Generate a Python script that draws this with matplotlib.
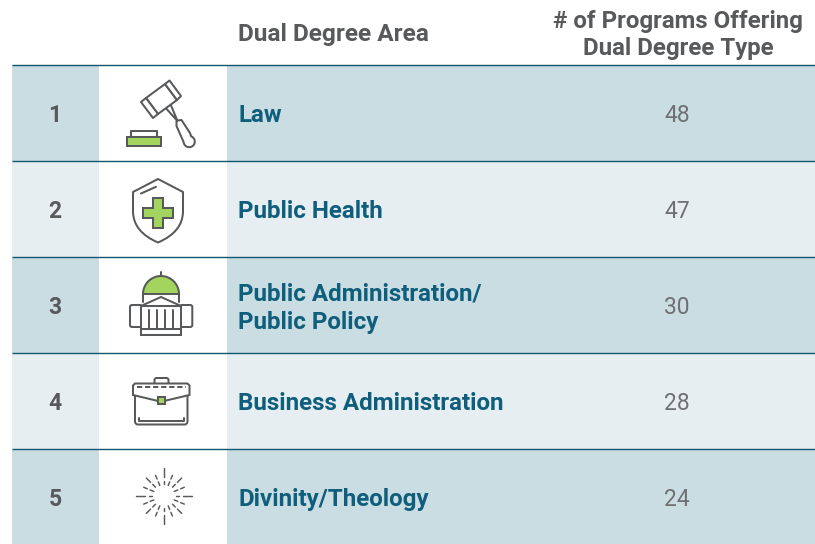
import numpy as np
import matplotlib
matplotlib.use("Agg")
import matplotlib.pyplot as plt
from matplotlib.patches import Rectangle, Polygon, FancyBboxPatch, Wedge, PathPatch
from matplotlib.path import Path

ranks = ["1", "2", "3", "4", "5"]
areas = ["Law", "Public Health", "Public Administration/\nPublic Policy",
         "Business Administration", "Divinity/Theology"]
programs = [48, 47, 30, 28, 24]
header_area = "Dual Degree Area"
header_count = "# of Programs Offering\nDual Degree Type"

DARK, LIGHT = "#C9DDE3", "#E6EEF2"
LINE = "#12586F"
TEAL = "#0F5E7C"
GREY = "#58595B"
NUM = "#6F7072"
GREEN = "#A2D45E"
FONT = "Roboto"

fig = plt.figure(figsize=(8.15, 5.44), dpi=100)
ax = fig.add_axes([0, 0, 1, 1])
ax.set_xlim(0, 815)
ax.set_ylim(544, 0)
ax.axis("off")

LW = 1.45
kw = dict(fill=False, ec=GREY, lw=LW, joinstyle="round", zorder=5)
def line(xs, ys, lw=LW, **k):
    ax.plot(xs, ys, color=GREY, lw=lw, solid_capstyle="round", solid_joinstyle="round", zorder=6, **k)
def rrect(x0, y0, x1, y1, r=2, **k):
    d = dict(kw); d.update(k)
    ax.add_patch(FancyBboxPatch((x0+r, y0+r), x1-x0-2*r, y1-y0-2*r,
                                boxstyle=f"round,pad={r},rounding_size={r}", **d))

def gavel():
    # handle as one outline ending in a round knob; its top runs under the head
    th = np.deg2rad(np.linspace(-70, 175, 30))
    knob = [(189.2 + 5.6*np.cos(a), 141.6 + 5.6*np.sin(a)) for a in th]
    ax.add_patch(Polygon([(170, 103), (177.3, 120.5), (181.5, 120), (190, 133)] + knob +
                         [(176.5, 126), (176.5, 120), (164, 106)], closed=True,
                         fc="white", ec=GREY, lw=LW, joinstyle="round", zorder=5))
    # head and its two end caps
    ax.add_patch(Polygon([(146, 98), (165, 84), (177, 100), (158, 114)], closed=True,
                         fc="white", ec=GREY, lw=LW, joinstyle="round", zorder=5.5))
    ax.add_patch(Polygon([(141, 102), (146, 98), (158, 114), (153, 118)], closed=True,
                         fc="white", ec=GREY, lw=LW, joinstyle="round", zorder=5.5))
    ax.add_patch(Polygon([(165, 84), (169.5, 80.5), (181, 96), (177, 100)], closed=True,
                         fc="white", ec=GREY, lw=LW, joinstyle="round", zorder=5.5))
    ax.add_patch(Rectangle((127, 137), 34, 8.5, fc=GREEN, ec=GREY, lw=LW, zorder=5))
    ax.add_patch(Rectangle((130.7, 131), 26, 6, **kw))

def shield():
    verts = [(158, 179), (133, 192), (133, 212), (133.5, 232), (158, 242.5),
             (182.5, 232), (183, 212), (183, 192), (158, 179)]
    codes = [Path.MOVETO, Path.LINETO, Path.LINETO, Path.CURVE3, Path.CURVE3,
             Path.CURVE3, Path.CURVE3, Path.LINETO, Path.CLOSEPOLY]
    ax.add_patch(PathPatch(Path(verts, codes), **kw))
    line([141, 156], [193.5, 186.8])
    cx, cy, a, b = 158, 212.7, 15, 5
    ax.add_patch(Polygon([(cx-b, cy-a), (cx+b, cy-a), (cx+b, cy-b), (cx+a, cy-b), (cx+a, cy+b),
                          (cx+b, cy+b), (cx+b, cy+a), (cx-b, cy+a), (cx-b, cy+b), (cx-a, cy+b),
                          (cx-a, cy-b), (cx-b, cy-b)], closed=True, fc=GREEN, ec=GREY, lw=LW, zorder=5))

def capitol():
    ax.add_patch(Wedge((161, 294), 18, 180, 360, fc=GREEN, ec=GREY, lw=LW, zorder=5))
    line([161, 161], [272, 276])
    line([143, 179], [294, 294])
    line([143, 143], [294, 302]); line([179, 179], [294, 302])
    rrect(130, 305, 142, 327, r=2)
    rrect(180, 305, 192.3, 327, r=2)
    ax.add_patch(Rectangle((141, 306), 40, 29, fc="white", ec=GREY, lw=LW, zorder=5.5))
    ax.add_patch(Polygon([(141, 306), (161, 297), (181, 306)], closed=True, fc="white", ec=GREY, lw=LW, zorder=5.5))
    line([141, 181], [329, 329])
    for x in (149, 157, 165, 173):
        line([x, x], [310, 329])

def briefcase():
    rrect(154.5, 378, 168.5, 388, r=2)
    rrect(135, 390, 187.5, 424.5, r=3, fc="white", fill=True, zorder=5.3)
    ax.add_patch(Polygon([(133, 395), (133, 385.5), (135, 383.5), (187.5, 383.5), (189.5, 385.5),
                          (189.5, 395), (161, 401.7)], closed=True, fc="white", ec=GREY, lw=LW, zorder=5.4))
    line([136.5, 186], [387, 387], ls=(0, (2.6, 1.4)))
    ax.add_patch(Rectangle((157.5, 397), 7, 7, fc=GREEN, ec=GREY, lw=LW, zorder=6.5))
    line([138.5, 138.5, 184, 184], [418, 420.5, 420.5, 418])

def burst():
    cx, cy = 164, 495.7
    for i in range(16):
        t = np.deg2rad(i*22.5)
        if i % 4 == 0:
            segs = [(12, 15), (19, 28)]
        elif i % 2 == 0:
            segs = [(12, 16), (19, 25)]
        else:
            segs = [(11, 15), (18, 22)]
        for r0, r1 in segs:
            line([cx+r0*np.cos(t), cx+r1*np.cos(t)], [cy+r0*np.sin(t), cy+r1*np.sin(t)], lw=1.05)

icons = [gavel, shield, capitol, briefcase, burst]
tops = [65, 161, 257, 353, 449]
bottoms = [161, 257, 353, 449, 544]

for i, (top, bot) in enumerate(zip(tops, bottoms)):
    col = DARK if i % 2 == 0 else LIGHT
    ax.add_patch(Rectangle((12, top), 87, bot-top, fc=col, ec="none", zorder=1))
    ax.add_patch(Rectangle((227, top), 588, bot-top, fc=col, ec="none", zorder=1))
    ax.plot([12, 815], [top, top], color=LINE, lw=1.0, zorder=3, solid_capstyle="butt")
    mid = (top+bot)/2 + 3
    ax.text(55, mid, ranks[i], ha="center", va="center", fontsize=16.5, fontweight="bold", color=GREY, family=FONT)
    ax.text(238, mid, areas[i], ha="left", va="center", fontsize=17.4, fontweight="bold", color=TEAL,
            family=FONT, linespacing=1.3)
    ax.text(677, mid, str(programs[i]), ha="center", va="center", fontsize=16.5, color=NUM, family=FONT)
    icons[i]()

ax.text(238, 34.5, header_area, ha="left", va="center", fontsize=17.6, fontweight="bold", color=GREY, family=FONT)
ax.text(678, 35, header_count, ha="center", va="center", fontsize=17.3, fontweight="bold", color=GREY,
        family=FONT, linespacing=1.17)

fig.savefig("out.png", dpi=100, facecolor="white")
